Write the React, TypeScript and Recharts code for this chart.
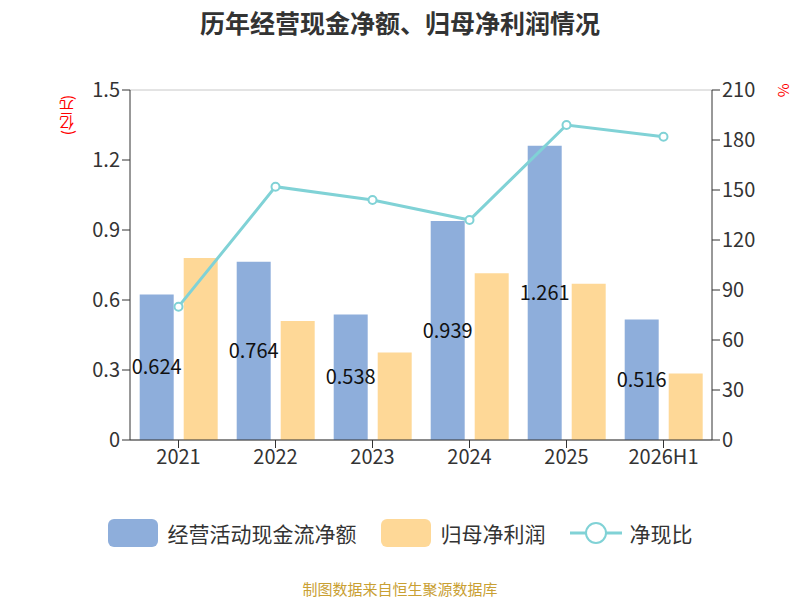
import { ComposedChart, Bar, Line, XAxis, YAxis, CartesianGrid, LabelList } from "recharts";

const years = ["2021", "2022", "2023", "2024", "2025", "2026H1"];
const cashFlow = [0.624, 0.764, 0.538, 0.939, 1.261, 0.516];
const netProfit = [0.78, 0.51, 0.375, 0.715, 0.67, 0.285];
const ratio = [80, 152, 144, 132, 189, 182];
const leftTicks = [0, 0.3, 0.6, 0.9, 1.2, 1.5];
const rightTicks = [0, 30, 60, 90, 120, 150, 180, 210];

const data = years.map((y, i) => ({ name: y, cash: cashFlow[i], profit: netProfit[i], ratio: ratio[i] }));

const blue = "#8eaedb";
const orange = "#fed897";
const teal = "#80d2d6";
const tick = { fill: "#333", fontSize: 20 };

export default function App() {
  return (
    <div style={{ position: "absolute", left: 0, top: 0, width: 800, height: 600, fontFamily: "Noto Sans CJK SC, Noto Sans, sans-serif", background: "#fff" }}>
      <div style={{ position: "absolute", top: 4, width: 800, textAlign: "center", fontSize: 25, fontWeight: "bold", color: "#333" }}>
        历年经营现金净额、归母净利润情况
      </div>
      <div style={{ position: "absolute", left: 56, top: 95, color: "red", fontSize: 15, writingMode: "vertical-rl", transform: "rotate(180deg)" }}>(亿元)</div>
      <div style={{ position: "absolute", left: 778, top: 80, color: "red", fontSize: 15, transform: "rotate(90deg)" }}>%</div>
      <ComposedChart width={800} height={600} data={data} margin={{ top: 90, right: 28, left: 70, bottom: 120 }} barCategoryGap="10%" barGap={10}>
        <CartesianGrid vertical={false} stroke="#c8c8c8" />
        <XAxis dataKey="name" tick={tick} axisLine={{ stroke: "#333" }} tickLine={{ stroke: "#333" }} tickSize={8} height={40} />
        <YAxis yAxisId="l" domain={[0, 1.5]} ticks={leftTicks} width={60} tick={tick} axisLine={{ stroke: "#333" }} tickLine={{ stroke: "#333" }} tickSize={8} />
        <YAxis yAxisId="r" orientation="right" domain={[0, 210]} ticks={rightTicks} width={60} tick={tick} axisLine={{ stroke: "#333" }} tickLine={{ stroke: "#333" }} tickSize={8} />
        <Bar yAxisId="l" dataKey="cash" fill={blue} isAnimationActive={false}>
          <LabelList dataKey="cash" position="center" fill="#111" fontSize={20} />
        </Bar>
        <Bar yAxisId="l" dataKey="profit" fill={orange} isAnimationActive={false} />
        <Line yAxisId="r" dataKey="ratio" stroke={teal} strokeWidth={3} dot={{ r: 4, fill: "#fff", stroke: teal, strokeWidth: 2 }} isAnimationActive={false} />
      </ComposedChart>
      <div style={{ position: "absolute", top: 518, left: 0, width: 800, display: "flex", justifyContent: "center", alignItems: "center", fontSize: 21, color: "#333" }}>
        <span style={{ width: 50, height: 28, background: blue, borderRadius: 6, marginRight: 10 }} />
        <span style={{ marginRight: 24 }}>经营活动现金流净额</span>
        <span style={{ width: 50, height: 28, background: orange, borderRadius: 6, marginRight: 10 }} />
        <span style={{ marginRight: 24 }}>归母净利润</span>
        <svg width={52} height={30} style={{ marginRight: 8 }}>
          <line x1={0} y1={15} x2={52} y2={15} stroke={teal} strokeWidth={3} />
          <circle cx={26} cy={15} r={10} fill="#fff" stroke={teal} strokeWidth={2} />
        </svg>
        <span>净现比</span>
      </div>
      <div style={{ position: "absolute", top: 578, width: 800, textAlign: "center", fontSize: 15, color: "#c9a033" }}>制图数据来自恒生聚源数据库</div>
    </div>
  );
}
